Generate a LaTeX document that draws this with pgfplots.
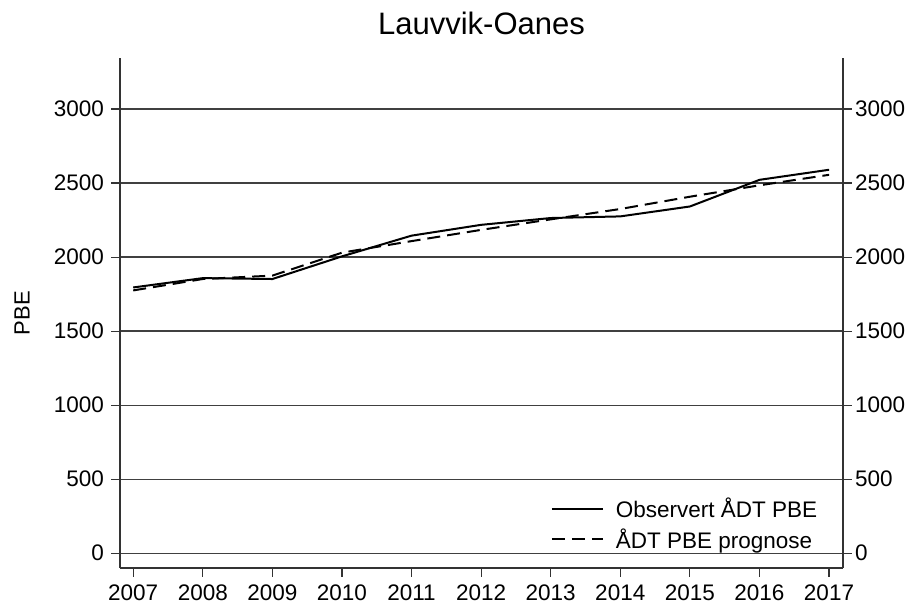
\documentclass[border=0pt]{standalone}
\usepackage{pgfplots}
\pgfplotsset{compat=1.18}
\usepackage{fontspec}
\setmainfont{Liberation Sans}
\begin{document}
\begin{tikzpicture}
\useasboundingbox (-120pt,-36pt) rectangle (787pt,568pt);
\pgfplotsset{
  common/.style={
    scale only axis, width=723pt, height=510pt,
    at={(0,0)}, anchor=south west,
    xmin=2006.81, xmax=2017.2,
    ymin=-100, ymax=3345,
    ytick={0,500,...,3000},
    tick align=outside,
    major tick length=9pt,
    tick style={black!80, line width=1.2pt},
    axis line style={line width=1.2pt, black!80},
    /pgf/number format/assume math mode=true,
    /pgf/number format/1000 sep={},
    tick label style={font=\fontsize{22.5}{26}\selectfont},
    yticklabel style={inner xsep=3pt},
    xticklabel style={inner ysep=3pt, yshift=-5pt},
  }
}
\begin{axis}[common,
  axis x line*=bottom, axis y line*=left,
  xtick={2007,...,2017},
  yticklabel style={xshift=-4pt},
  ymajorgrids,
  grid style={line width=1.3pt, color=black!75},
  title={\fontsize{31}{35}\selectfont Lauvvik-Oanes},
  title style={at={(axis description cs:0.5,1)}, anchor=base, yshift=17pt},
  ylabel={\fontsize{22}{25}\selectfont PBE},
  ylabel style={at={(axis description cs:-0.1355,0.5)}, anchor=center, rotate=0},
  legend style={draw=none, fill=none, at={(0.970,0.028)}, anchor=south east,
    font=\fontsize{22.5}{26}\selectfont, row sep=5pt, inner sep=2pt,
    /tikz/every odd column/.append style={column sep=10pt}},
  legend cell align=left,
  legend image code/.code={\draw[#1] (0pt,0pt) -- (51pt,0pt);},
]
\addplot[black, line width=2pt] coordinates {
(2007,1795) (2008,1858) (2009,1852) (2010,2005) (2011,2145) (2012,2218) (2013,2264) (2014,2275) (2015,2342) (2016,2522) (2017,2590)};
\addlegendentry{Observert ÅDT PBE}
\addplot[black, line width=2pt, dash pattern=on 13pt off 7pt] coordinates {
(2007,1775) (2008,1852) (2009,1875) (2010,2030) (2011,2108) (2012,2184) (2013,2255) (2014,2325) (2015,2408) (2016,2485) (2017,2556)};
\addlegendentry{ÅDT PBE prognose}
\end{axis}
\begin{axis}[common,
  axis x line=none, axis y line*=right,
]
\addplot[draw=none] coordinates {(2010,0)};
\end{axis}
\end{tikzpicture}
\end{document}
